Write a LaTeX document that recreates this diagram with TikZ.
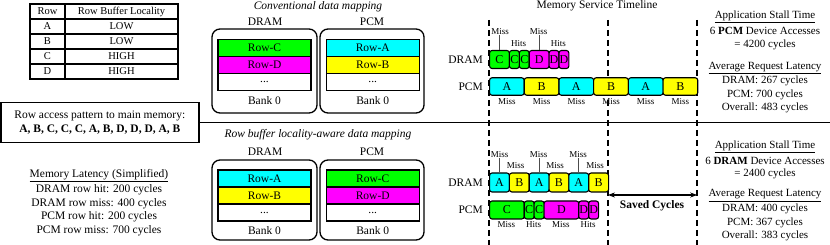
\documentclass[tikz,border=0pt]{standalone}
\usepackage{fontspec}
\setmainfont{Liberation Serif}
\usetikzlibrary{arrows.meta,calc}
\definecolor{cgreen}{RGB}{0,255,0}
\definecolor{cmag}{RGB}{255,0,255}
\definecolor{ccyan}{RGB}{0,255,255}
\definecolor{cyell}{RGB}{255,255,0}
\begin{document}
\begin{tikzpicture}[x=1pt,y=-1pt,
  txt/.style={inner sep=0pt, font=\fontsize{11.5}{13.5}\selectfont},
  tabtxt/.style={inner sep=0pt, font=\fontsize{10.5}{12}\selectfont},
  small/.style={inner sep=0pt, font=\fontsize{9}{10}\selectfont},
  rtxt/.style={inner sep=0pt, font=\fontsize{11}{13}\selectfont},
  bank/.style={draw, rounded corners=8pt, line width=1.3pt, minimum width=104pt, minimum height=84pt, inner sep=0pt},
  rowbox/.style={draw, line width=1.1pt, minimum width=93pt, minimum height=17pt, inner sep=0pt, font=\fontsize{11.5}{13.5}\selectfont},
  bar/.style={draw, rounded corners=2.5pt, line width=1.1pt, minimum height=18pt, inner sep=0pt, anchor=west, font=\fontsize{12}{12}\selectfont},
  tick/.style={draw=black!70, line width=0.8pt},
  dashline/.style={line width=1.5pt, dash pattern=on 6pt off 4pt},
]
\useasboundingbox (0,0) rectangle (830,245);

% ---------- table ----------
\draw[line width=1.1pt] (65,4) -- (65,79);
\foreach \yy in {19,34,49,64} \draw[line width=1.1pt] (30,\yy) -- (178,\yy);
\draw[line width=1.7pt] (30,4) rectangle (178,79);
\node[tabtxt] (th1) at (47.5,11.5) {Row};
\node[tabtxt] (th2) at (121.5,11.5) {Row Buffer Locality};
\node[tabtxt] (ra) at (47.5,26.5) {A};
\node[tabtxt] (rb) at (47.5,41.5) {B};
\node[tabtxt] (rc) at (47.5,56.5) {C};
\node[tabtxt] (rd) at (47.5,71.5) {D};
\node[tabtxt] (la) at (121.5,26.5) {LOW};
\node[tabtxt] (lb) at (121.5,41.5) {LOW};
\node[tabtxt] (lc) at (121.5,56.5) {HIGH};
\node[tabtxt] (ld) at (121.5,71.5) {HIGH};

% ---------- access pattern ----------
\node[draw, line width=1.5pt, minimum width=198pt, minimum height=40pt, inner sep=0pt, align=center,
      font=\fontsize{11.5}{13.5}\selectfont] (pat) at (99.8,122.5)
  {Row access pattern to main memory:\\ \textbf{A, B, C, C, C, A, B, D, D, D, A, B}};
\coordinate (sepR) at (830,122.5);
\draw[line width=1.3pt] (pat.east) -- (sepR);

% ---------- memory latency ----------
\node[txt] (ml0) at (99,176) {\underline{Memory Latency (Simplified)}};
\node[txt] (ml1) at (99,190) {DRAM row hit: 200 cycles};
\node[txt] (ml2) at (99,203.5) {DRAM row miss: 400 cycles};
\node[txt] (ml3) at (99,217) {PCM row hit: 200 cycles};
\node[txt] (ml4) at (99,231) {PCM row miss: 700 cycles};

% ---------- conventional mapping ----------
\node[txt, font=\fontsize{11.5}{13.5}\selectfont\itshape] (conv) at (318,7) {Conventional data mapping};
\node[txt] (dl1) at (265,22) {DRAM};
\node[txt] (pl1) at (372,22) {PCM};
\node[bank, minimum width=105pt] (db1) at (264.5,71) {};
\node[bank] (pb1) at (372,71) {};
\node[rowbox, fill=cgreen] (d1c) at (264.5,48) {Row-C};
\node[rowbox, fill=cmag] (d1d) at (264.5,65) {Row-D};
\node[rowbox, fill=white] (d1e) at (264.5,82) {...};
\node[rowbox, fill=ccyan] (p1a) at (372.75,48) {Row-A};
\node[rowbox, fill=cyell] (p1b) at (372.75,65) {Row-B};
\node[rowbox, fill=white] (p1e) at (372.75,82) {...};
\node[txt] (db1l) at (264.5,100.5) {Bank 0};
\node[txt] (pb1l) at (372.75,100.5) {Bank 0};

% ---------- aware mapping ----------
\node[txt, font=\fontsize{11.5}{13.5}\selectfont\itshape] (aware) at (318,135) {Row buffer locality-aware data mapping};
\node[txt] (dl2) at (265,152) {DRAM};
\node[txt] (pl2) at (372,152) {PCM};
\node[bank, minimum width=105pt, minimum height=80pt] (db2) at (264.5,200) {};
\node[bank, minimum height=80pt] (pb2) at (372,200) {};
\node[rowbox, fill=ccyan] (d2a) at (264.5,178.5) {Row-A};
\node[rowbox, fill=cyell] (d2b) at (264.5,195.5) {Row-B};
\node[rowbox, fill=white] (d2e) at (264.5,212.5) {...};
\node[rowbox, fill=cgreen] (p2c) at (372.75,178.5) {Row-C};
\node[rowbox, fill=cmag] (p2d) at (372.75,195.5) {Row-D};
\node[rowbox, fill=white] (p2e) at (372.75,212.5) {...};
\node[txt] (db2l) at (264.5,230.5) {Bank 0};
\node[txt] (pb2l) at (372.75,230.5) {Bank 0};

% ---------- timeline ----------
\node[txt] (tl) at (597,6) {Memory Service Timeline};
\coordinate (v1t) at (489,20); \coordinate (v1b) at (489,245);
\coordinate (v2t) at (607.9,20); \coordinate (v2b) at (607.9,245);
\coordinate (v3t) at (697.2,20); \coordinate (v3b) at (697.2,245);
\draw[dashline] (v1t) -- (v1b);
\draw[dashline] (v2t) -- (v2b);
\draw[dashline] (v3t) -- (v3b);

\node[txt, anchor=east] (tdl) at (483,59.5) {DRAM};
\node[txt, anchor=east] (tpl) at (483,86.5) {PCM};
\node[txt, anchor=east] (bdl) at (483,182.5) {DRAM};
\node[txt, anchor=east] (bpl) at (483,210) {PCM};

% top DRAM
\node[bar, fill=cgreen, minimum width=19.83pt] (t1) at (489,59.5) {C};
\node[bar, fill=cgreen, minimum width=9.92pt] (t2) at (508.83,59.5) {C};
\node[bar, fill=cgreen, minimum width=9.92pt] (t3) at (518.75,59.5) {C};
\node[bar, fill=cmag, minimum width=19.83pt] (t4) at (528.67,59.5) {D};
\node[bar, fill=cmag, minimum width=9.92pt] (t5) at (548.5,59.5) {D};
\node[bar, fill=cmag, minimum width=9.92pt] (t6) at (558.42,59.5) {D};
% top PCM
\node[bar, fill=ccyan, minimum width=34.7pt, minimum height=17.5pt] (q1) at (489,86.5) {A};
\node[bar, fill=cyell, minimum width=34.7pt, minimum height=17.5pt] (q2) at (523.7,86.5) {B};
\node[bar, fill=ccyan, minimum width=34.7pt, minimum height=17.5pt] (q3) at (558.4,86.5) {A};
\node[bar, fill=cyell, minimum width=34.7pt, minimum height=17.5pt] (q4) at (593.1,86.5) {B};
\node[bar, fill=ccyan, minimum width=34.7pt, minimum height=17.5pt] (q5) at (627.8,86.5) {A};
\node[bar, fill=cyell, minimum width=34.7pt, minimum height=17.5pt] (q6) at (662.5,86.5) {B};
% top labels
\node[small] (tm1) at (500,32) {Miss};
\node[small] (tm2) at (538.6,32) {Miss};
\node[small] (th1l) at (518.7,44) {Hits};
\node[small] (th2l) at (558.4,44) {Hits};
\draw[tick] (t1.north) -- (t1.north |- tm1.south);
\draw[tick] (t4.north) -- (t4.north |- tm2.south);
\foreach \i in {1,...,6} \node[small] (qm\i) at ($(q\i.south)+(0,5.5)$) {Miss};

% bottom DRAM
\node[bar, fill=ccyan, minimum width=19.83pt, minimum height=19pt] (u1) at (489,182.5) {A};
\node[bar, fill=cyell, minimum width=19.83pt, minimum height=19pt] (u2) at (508.83,182.5) {B};
\node[bar, fill=ccyan, minimum width=19.83pt, minimum height=19pt] (u3) at (528.67,182.5) {A};
\node[bar, fill=cyell, minimum width=19.83pt, minimum height=19pt] (u4) at (548.5,182.5) {B};
\node[bar, fill=ccyan, minimum width=19.83pt, minimum height=19pt] (u5) at (568.33,182.5) {A};
\node[bar, fill=cyell, minimum width=19.83pt, minimum height=19pt] (u6) at (588.17,182.5) {B};
% bottom PCM
\node[bar, fill=cgreen, minimum width=34.7pt] (w1) at (489,210) {C};
\node[bar, fill=cgreen, minimum width=9.92pt] (w2) at (523.7,210) {C};
\node[bar, fill=cgreen, minimum width=9.92pt] (w3) at (533.62,210) {C};
\node[bar, fill=cmag, minimum width=34.7pt] (w4) at (543.54,210) {D};
\node[bar, fill=cmag, minimum width=9.92pt] (w5) at (578.24,210) {D};
\node[bar, fill=cmag, minimum width=9.92pt] (w6) at (588.16,210) {D};
% bottom labels
\node[small] (um1) at (499.5,155) {Miss};
\node[small] (um3) at (538.6,155) {Miss};
\node[small] (um5) at (578.2,155) {Miss};
\node[small] (um2) at (515.5,165.5) {Miss};
\node[small] (um4) at (555.2,165.5) {Miss};
\node[small] (um6) at (595,165.5) {Miss};
\draw[tick] (u1.north) -- (u1.north |- um1.south);
\draw[tick] (u3.north) -- (u3.north |- um3.south);
\draw[tick] (u5.north) -- (u5.north |- um5.south);
\node[small] (wl1) at (506.3,224.5) {Miss};
\node[small] (wl2) at (533.6,224.5) {Hits};
\node[small] (wl3) at (560.9,224.5) {Miss};
\node[small] (wl4) at (588.2,224.5) {Hits};

% saved cycles
\coordinate (sc1) at (607.9,195);
\coordinate (sc2) at (697.2,195);
\draw[line width=1.4pt, {Stealth[length=7pt,width=5pt]}-{Stealth[length=7pt,width=5pt]}] (sc1) -- (sc2);
\node[txt, font=\fontsize{11.5}{13.5}\selectfont\bfseries] (saved) at (652,205.5) {Saved Cycles};

% ---------- right column ----------
\node[rtxt] (a1) at (765,17) {\underline{Application Stall Time}};
\node[rtxt] (a2) at (765,31) {6 \textbf{PCM} Device Accesses};
\node[rtxt] (a3) at (765,44.5) {= 4200 cycles};
\node[rtxt] (a4) at (765,68) {\underline{Average Request Latency}};
\node[rtxt] (a5) at (765,81) {DRAM: 267 cycles};
\node[rtxt] (a6) at (765,94.5) {PCM: 700 cycles};
\node[rtxt] (a7) at (765,107.5) {Overall: 483 cycles};
\node[rtxt] (b1) at (765,147) {\underline{Application Stall Time}};
\node[rtxt] (b2) at (765,160.5) {6 \textbf{DRAM} Device Accesses};
\node[rtxt] (b3) at (765,174) {= 2400 cycles};
\node[rtxt] (b4) at (765,195.5) {\underline{Average Request Latency}};
\node[rtxt] (b5) at (765,209) {DRAM: 400 cycles};
\node[rtxt] (b6) at (765,222.5) {PCM: 367 cycles};
\node[rtxt] (b7) at (765,236) {Overall: 383 cycles};
\end{tikzpicture}
\end{document}
